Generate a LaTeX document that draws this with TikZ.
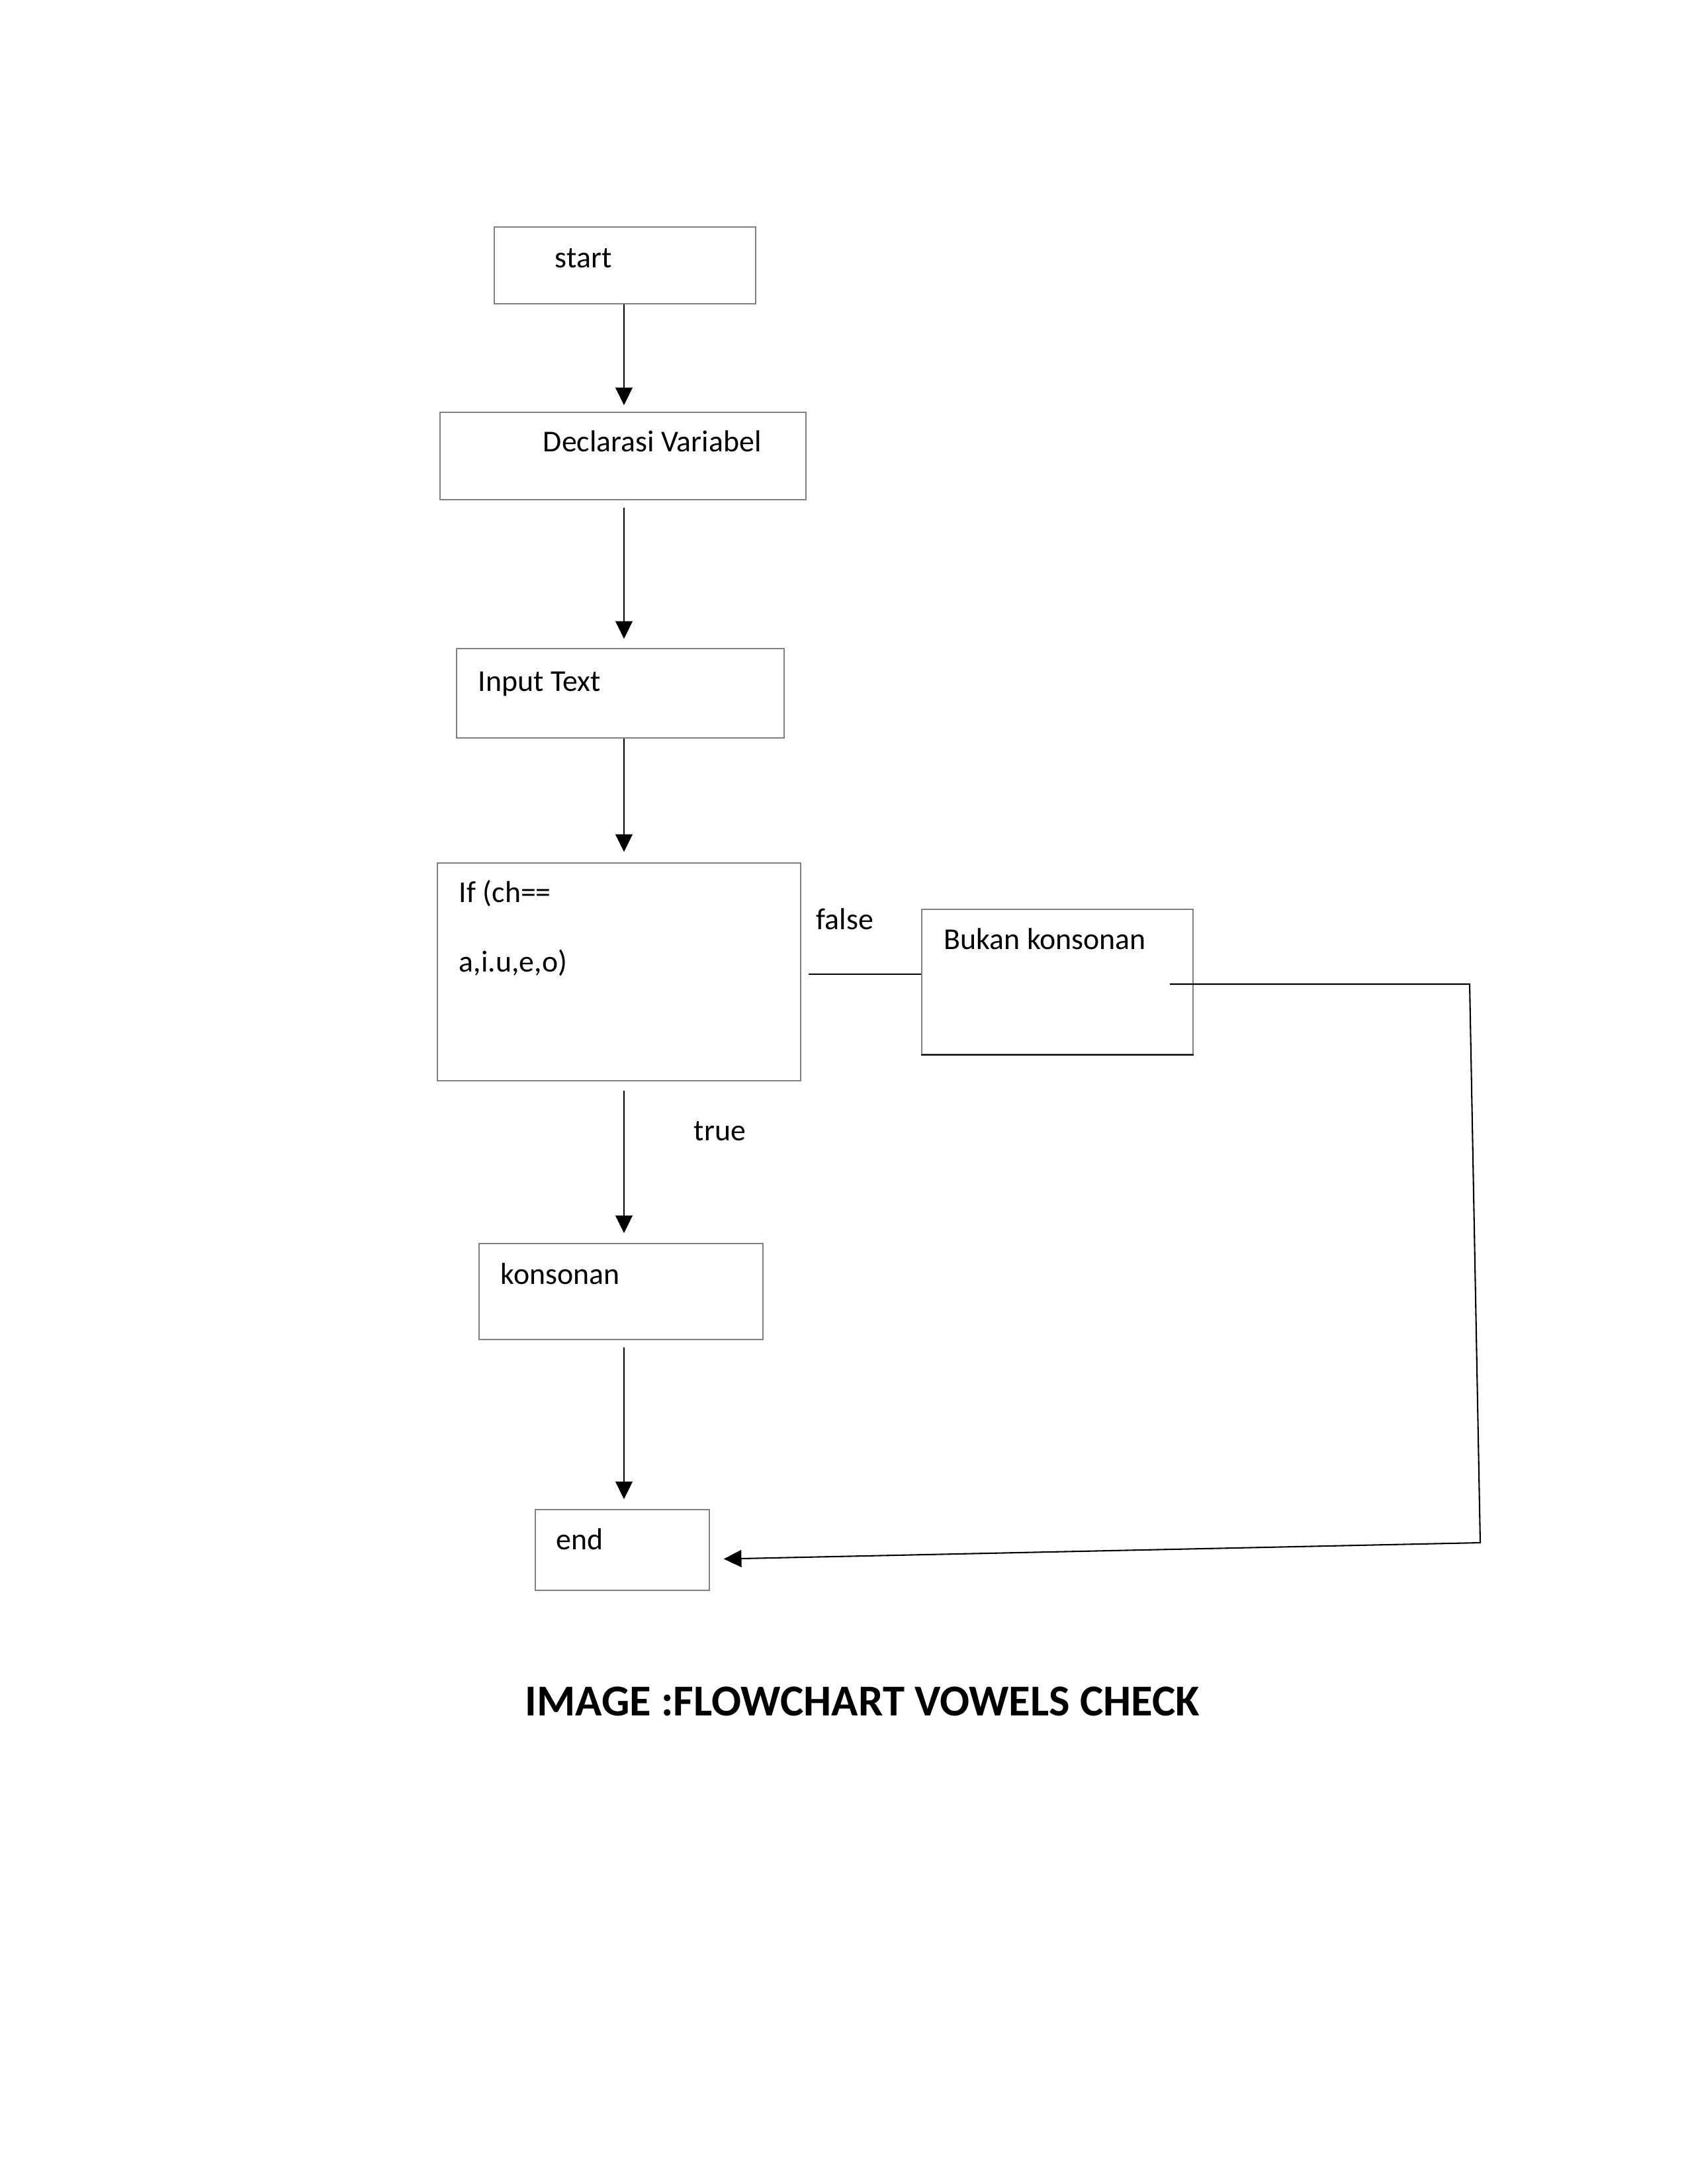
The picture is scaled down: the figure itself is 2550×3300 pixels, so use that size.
\documentclass[tikz,border=0pt]{standalone}
\usepackage{fontspec}
\setmainfont{Carlito}
\usetikzlibrary{arrows.meta,calc}
\definecolor{boxgray}{RGB}{128,128,128}
\begin{document}
\begin{tikzpicture}[x=0.24pt,y=-0.24pt,
  box/.style={draw=boxgray,line width=0.4pt,inner sep=0pt},
  txt/.style={anchor=base west,inner sep=0pt,font=\fontsize{11}{13}\selectfont},
  arr/.style={-{Triangle[length=6.4pt,width=6.2pt]},line width=0.5pt,black},
  con/.style={line width=0.5pt,black}]
\useasboundingbox (0,0) rectangle (2550,3300);
% boxes
\node[box,minimum width=94.8pt,minimum height=27.84pt] (start) at (944.5,401) {};
\node[box,minimum width=132.72pt,minimum height=31.68pt] (decl) at (941.5,689) {};
\node[box,minimum width=118.8pt,minimum height=32.4pt] (input) at (937.5,1047.5) {};
\node[box,minimum width=131.76pt,minimum height=78.96pt] (if) at (935.5,1468.5) {};
\node[box,minimum width=98.4pt,minimum height=52.56pt] (bukan) at (1598,1483.5) {};
\node[box,minimum width=102.96pt,minimum height=34.8pt] (kons) at (938.5,1951.5) {};
\node[box,minimum width=63.12pt,minimum height=29.28pt] (endb) at (940.5,2342) {};
\draw[black,line width=0.5pt] (bukan.south west) -- (bukan.south east);
% texts
\node[txt] (tstart) at (838,404) {start};
\node[txt] (tdecl) at (820,682) {Declarasi Variabel};
\node[txt] (tinput) at (722,1044) {Input Text};
\node[txt] (tif1) at (693,1363) {If (ch==};
\node[txt] (tif2) at (693,1468) {a,i.u,e,o)};
\node[txt] (tfalse) at (1233,1404) {false};
\node[txt] (tbukan) at (1426,1434) {Bukan konsonan};
\node[txt] (ttrue) at (1048,1723) {true};
\node[txt] (tkons) at (756,1940) {konsonan};
\node[txt] (tend) at (840,2341) {end};
\node[anchor=base west,inner sep=0pt,font=\fontsize{16}{19}\selectfont\bfseries] (title) at (793,2592) {IMAGE :FLOWCHART VOWELS CHECK};
% connectors
\coordinate (ax) at (943,0);
\draw[arr,shorten >=2.4pt] (start.south -| ax) -- (decl.north -| ax);
\draw[arr,shorten <=2.64pt,shorten >=3.36pt] (decl.south -| ax) -- (input.north -| ax);
\draw[arr,shorten >=3.84pt] (input.south -| ax) -- (if.north -| ax);
\draw[arr,shorten <=3.36pt,shorten >=3.6pt] (if.south -| ax) -- (kons.north -| ax);
\draw[arr,shorten <=2.64pt,shorten >=3.6pt] (kons.south -| ax) -- (endb.north -| ax);
\coordinate (fy) at (0,1472);
\draw[con,shorten <=2.64pt] (if.east |- fy) -- (bukan.west |- fy);
\coordinate (c1) at (2221,1487);
\coordinate (c2) at (2237,2331);
\draw[arr,shorten >=5.04pt] ($(bukan.east)+(-36,3.5)$) -- (c1) -- (c2) -- ($(endb.east)+(0,14)$);
\end{tikzpicture}
\end{document}
